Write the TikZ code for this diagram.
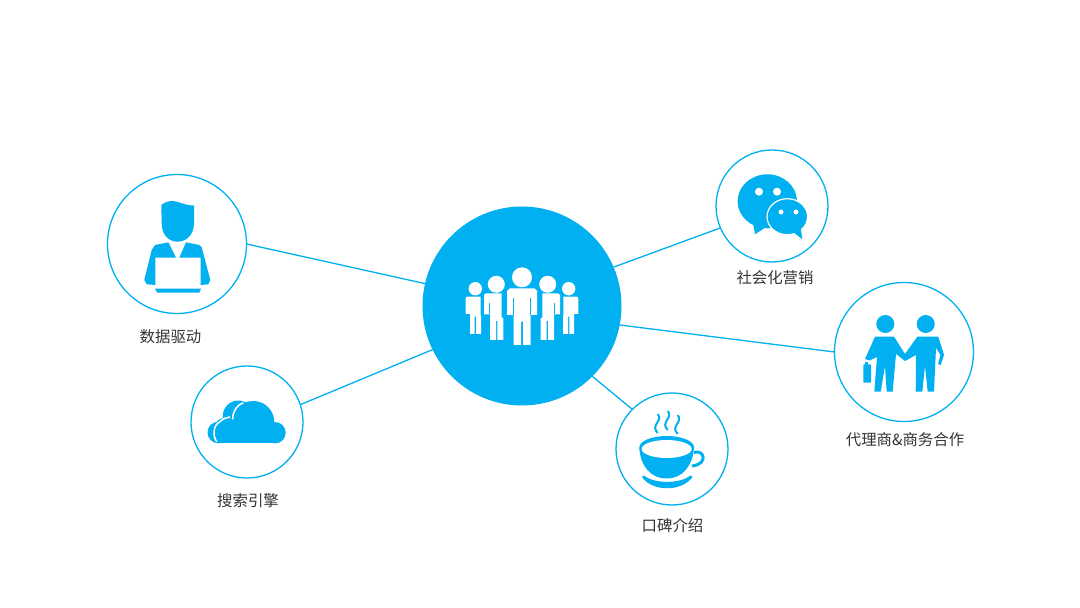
\documentclass[tikz,border=0pt]{standalone}
\usepackage{fontspec}
\newfontfamily\cjk{Noto Sans CJK SC}
\definecolor{skyblue}{RGB}{0,176,240}
\definecolor{tagtext}{RGB}{51,51,51}
\tikzset{
hub/.style={circle,fill=skyblue,inner sep=0pt,outer sep=0pt,minimum size=99.5pt},
big/.style={circle,draw=skyblue,line width=0.65pt,inner sep=0pt,outer sep=0pt,minimum size=69.5pt},
small/.style={circle,draw=skyblue,line width=0.65pt,inner sep=0pt,outer sep=0pt,minimum size=56pt},
link/.style={draw=skyblue,line width=0.65pt},
tag/.style={font=\cjk\fontsize{7.7}{9}\selectfont,text=tagtext,inner sep=0pt},
icon/.style={fill=skyblue},
cut/.style={draw=white,line width=0.8pt},
}
\begin{document}
\begin{tikzpicture}[x=0.5pt,y=-0.5pt]
\useasboundingbox (0,0) rectangle (1080,608);
\node[hub] (team) at (522,306) {};
\node[big] (driven) at (177,244) {};
\node[small] (search) at (247,422) {};
\node[small] (social) at (772,206) {};
\node[small] (word) at (672,449) {};
\node[big] (agent) at (904,352) {};

\node[tag] (drivenname) at (170.5,336.5) {数据驱动};
\node[tag] (searchname) at (248,500.5) {搜索引擎};
\node[tag] (socialname) at (775,277.5) {社会化营销};
\node[tag] (wordname) at (672.5,525.5) {口碑介绍};
\node[tag] (agentname) at (905,439.5) {代理商\&商务合作};

\path[link] (driven.east) edge (team.167);
\path[link] (search.18) edge (team.206);
\path[link] (social.203) edge (team.23);
\path[link] (agent.west) edge (team.-11.5);
\path[link] (word.135) edge (team.-45);

% team
\begin{scope}[fill=white,shift={(522,0)}]
\fill (0,277.3) circle (10);
\fill (-15,291) -- (-12.5,288.5) -- (12.5,288.5) -- (15,291) -- (15,315) -- (8.5,315) -- (8.5,345) -- (1,345) -- (1,321.7) -- (-1,321.7) -- (-1,345) -- (-8.5,345) -- (-8.5,315) -- (-15,315) -- cycle;
\draw[skyblue,line width=0.45pt] (-8.5,298) -- (-8.5,315) (8.5,298) -- (8.5,315);
\foreach \side in {-1,1}{
\begin{scope}[xscale=\side]
\fill (25.7,284.3) circle (8.5);
\fill (38,295) -- (36,293.3) -- (20.3,293.3) -- (20.3,318) -- (18.7,318) -- (18.7,340) -- (24.6,340) -- (24.6,321) -- (26,321) -- (26,340) -- (32,340) -- (32,314.3) -- (38,314.3) -- cycle;
\draw[skyblue,line width=0.4pt] (32.5,303) -- (32.5,314.3);
\fill (46.7,288.7) circle (6.7);
\fill (56.3,298) -- (55,296.7) -- (41.3,296.7) -- (41.3,316) -- (41,316) -- (41,334) -- (46,334) -- (46,316.7) -- (47.3,316.7) -- (47.3,334) -- (52,334) -- (52,314) -- (56.3,314) -- cycle;
\end{scope}
}
\end{scope}

% driven
\fill[icon] (161.3,205) .. controls (165,202) and (169,201) .. (171.7,201) .. controls (178,201) and (186,206) .. (194,205.3) -- (194,223.3) .. controls (194,234) and (187,241.7) .. (177.5,241.7) .. controls (168,241.7) and (161.7,234) .. (161.7,223.3) -- cycle;
\fill[icon] (168.3,242.3) -- (176,257.7) -- (155.3,257.7) -- (155.3,285) -- (146.7,284.3) -- (144.3,280) -- (151.7,250) -- (155,245) -- cycle;
\fill[icon] (186,242.3) -- (179.3,257.7) -- (200.7,257.7) -- (200.7,285) -- (208.3,284.3) -- (210.3,280) -- (201.7,247.3) -- (199.3,245) -- cycle;
\fill[icon] (155,288.7) -- (201,288.7) -- (199.3,292.7) -- (157.3,292.7) -- cycle;

% search
\fill[icon] (238.3,416) circle (15.5) (218.3,432.5) circle (10.8) (224,427) circle (9) (253.3,422) circle (21) (275,432.7) circle (10.7);
\fill[icon] (218.3,443.3) rectangle (275,425);
\draw[cut] (216.7,441.7) .. controls (212.5,436) and (213,425) .. (220,421.7) .. controls (223,418.5) and (226.5,417.5) .. (230,417);
\draw[cut] (232.7,419.3) .. controls (232.7,411) and (237,405) .. (243.3,402.7);

% social
\fill[icon] (767.3,201.3) ellipse (29.7 and 27);
\fill[icon] (753.3,225) -- (755,234.3) -- (766.7,226.7) -- cycle;
\fill[white] (759,191.7) circle (4) (777,191.7) circle (4);
\filldraw[draw=white,fill=skyblue,line width=0.6pt] (787.3,216.7) ellipse (20.3 and 18);
\fill[icon] (793.3,232.3) -- (802.3,239.3) -- (800.7,228.3) -- cycle;
\fill[white] (781,212) circle (2.5) (796,212) circle (2.5);

% word
\foreach \x/\top in {656.7/414,666.7/411,676.7/415}{
\draw[skyblue,line width=1pt] (\x+1,\top) .. controls (\x+7,\top+7) and (\x-7,\top+11) .. (\x+1,\top+19);
}
\fill[icon] (666.7,447.3) ellipse (27.3 and 11.3);
\fill[icon] (639.3,447.3) .. controls (640,465) and (650,478.5) .. (666.7,478.5) .. controls (683,478.5) and (693,465) .. (694,447.3) -- cycle;
\fill[white] (666.7,449) ellipse (25 and 9);
\draw[skyblue,line width=1.5pt] (694,452.5) .. controls (704,449) and (709,464) .. (692,466);
\fill[icon] (642,477) .. controls (652,492) and (682,492) .. (692.5,477) -- (690.5,475.5) .. controls (680,484) and (654,484) .. (644,475.5) -- cycle;

% agent
\fill[icon] (885.3,324) circle (9) (925.7,324) circle (9);
\fill[icon] (875,336.7) -- (894,336.7) -- (905,354) -- (905,361) -- (896,354) -- (892.7,391.7) -- (886.7,391.7) -- (885,366) -- (880.7,391.7) -- (874.3,391.7) -- (877,357) -- (869.5,360.5) -- (865,359) -- cycle;
\fill[icon] (917.3,336.7) -- (938.3,336.7) -- (944,355) -- (940.7,365) -- (938,364) -- (940.5,355) -- (936,348) -- (934,391.7) -- (927.7,391.7) -- (925,366) -- (922.3,391.7) -- (915.7,391.7) -- (916,355) -- (905,361) -- (905,354) -- cycle;
\fill[icon,rounded corners=0.4pt] (863.3,364.3) rectangle (871,382.7);
\fill[icon] (865,362) rectangle (868,365);
\end{tikzpicture}
\end{document}
